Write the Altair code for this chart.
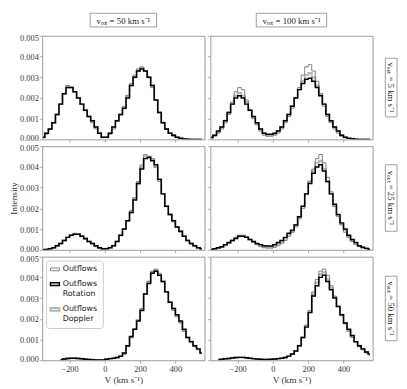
import altair as alt
import pandas as pd

SERIF = "Liberation Serif"

# bin centres (km/s)
V = [-350, -330, -310, -290, -270, -250, -230, -210, -190, -170, -150, -130, -110, -90, -70, -50, -30, -10,
     10, 30, 50, 70, 90, 110, 130, 150, 170, 190, 210, 230, 250, 270, 290, 310, 330, 350, 370, 390, 410, 430,
     450, 470, 490, 510, 530, 550]

SERIES = ["Outflows", "Outflows Rotation", "Outflows Doppler"]
COLORS = ["#808080", "#000000", "#b4b4b4"]
WIDTHS = [1.0, 2.0, 2.6]
DRAW_ORDER = ["Outflows Doppler", "Outflows", "Outflows Rotation"]

COL_TITLES = ["vᵣₒₜ = 50 km s⁻¹", "vᵣₒₜ = 100 km s⁻¹"]
ROW_TITLES = ["vₒᵤₜ = 5 km s⁻¹", "vₒᵤₜ = 25 km s⁻¹", "vₒᵤₜ = 50 km s⁻¹"]
X_TICKS = [-200, 0, 200, 400]
Y_TICKS = [0, 0.001, 0.002, 0.003, 0.004, 0.005]

# intensities in units of 1e-4 ; None = no bin drawn
# row 1 : v_out = 5, v_rot = 50
R1L_OUT = [1, 2.5, 5, 8, 12, 17, 22, 26, 25, 23, 20, 17, 14, 11, 8, 5, 3, 1,
           1, 2.5, 5, 9, 12, 16, 21, 27, 31, 34, 35, 33, 30, 25, 19, 13, 8, 5, 3, 1.5, 1, 0.5, 0.2, 0.1, 0, 0, 0, 0]
R1L_ROT = [1, 3, 5, 8, 12, 17, 22, 25, 25, 23, 20, 17, 14, 11, 9, 6, 3, 1,
           1, 3, 6, 9, 12, 15, 20, 26, 30, 33, 34, 33, 30, 26, 19, 13, 8, 5, 3, 2, 1, 0.5, 0.2, 0.1, 0, 0, 0, 0]
R1L_DOP = [1, 3, 5, 8, 12, 17, 22, 25, 25, 23, 20, 17, 14, 11, 9, 6, 3, 1,
           1, 3, 6, 9, 12, 15, 21, 26, 30, 33, 34.5, 33, 30, 26, 19, 13, 8, 5, 3, 2, 1, 0.5, 0.2, 0.1, 0, 0, 0, 0]
# row 1 : v_out = 5, v_rot = 100
R1R_OUT = [0.5, 1.5, 3, 5, 8, 12, 18, 23, 25, 24, 19, 14, 10, 7, 4, 2, 1.5, 1.5,
           2, 3, 5, 8, 11, 15, 20, 25, 31, 35, 36, 33, 28, 22, 16, 11, 8, 5, 3, 1.5, 1, 0.5, 0.2, 0.1, 0, 0, 0, 0]
R1R_ROT = [1, 2, 4, 6, 9, 13, 17, 20, 21, 20, 17, 14, 11, 8, 5, 3, 2.5, 2.5,
           3, 4, 6, 9, 12, 16, 20, 24, 27, 29, 29.5, 28, 25, 21, 17, 12, 9, 6, 4, 2, 1, 0.5, 0.3, 0.1, 0, 0, 0, 0]
R1R_DOP = [1, 2, 3.5, 6, 9, 13, 17, 21, 22.5, 21, 18, 14, 10.5, 7.5, 5, 3, 2, 2,
           2.5, 4, 6, 9, 12, 16, 20, 24, 28, 31, 32, 30, 26, 22, 17, 12, 8.5, 6, 4, 2, 1, 0.5, 0.3, 0.1, 0, 0, 0, 0]
# row 2 : v_out = 25, v_rot = 50
R2L_OUT = [0, 0.2, 0.5, 1, 2, 3, 4.5, 6, 7, 8, 7.5, 6.5, 5, 4, 3, 1.5, 0.8, 0.3,
           0.3, 1, 2, 4, 7, 10, 14, 19, 25, 33, 41, 46, 45, 44, 40, 33, 27, 21, 17, 13.5, 11, 8.5, 6.5, 4.5, 3, 2, 1, 0.5]
R2L_ROT = [0, 0.2, 0.5, 1, 2, 3, 4.5, 6, 7, 7.5, 7.5, 6.5, 5.5, 4, 3, 2, 1, 0.5,
           0.5, 1, 2, 4, 7, 10, 14, 18, 24, 32, 39, 44, 44.5, 43, 41, 34, 27, 21, 17, 14, 11, 9, 6.5, 4.5, 3, 2, 1, 0.5]
R2L_DOP = [0, 0.2, 0.5, 1, 2, 3, 4.5, 6, 7, 7.5, 7.5, 6.5, 5.5, 4, 3, 2, 1, 0.5,
           0.5, 1, 2, 4, 7, 10, 14, 18, 25, 32, 40, 45, 45, 43.5, 40, 34, 27, 21, 17, 14, 11, 9, 6.5, 4.5, 3, 2, 1, 0.5]
# row 2 : v_out = 25, v_rot = 100
R2R_OUT = [0, 0.3, 0.7, 1.2, 2, 3, 4.5, 6, 7, 7, 6.5, 5, 3.5, 2.5, 1.5, 1, 0.8, 0.8,
           1.2, 2, 3, 4.5, 6.5, 8.5, 11, 15, 20, 27, 33, 39, 44, 46, 42, 35, 28, 21, 16, 12, 8.5, 6, 4, 2.5, 1.5, 1, 0.5, 0.2]
R2R_ROT = [0.2, 0.5, 1, 1.5, 2.5, 3.5, 4.5, 5.5, 6.5, 6.5, 6, 5, 4, 3, 2.5, 2, 1.8, 1.8,
           2.5, 3.5, 4.5, 6, 8, 9.5, 12, 16, 21, 27, 32, 37, 40, 41, 38, 33, 27, 22, 17, 13, 10, 7, 5, 3.5, 2, 1.2, 0.7, 0.3]
R2R_DOP = [0.2, 0.4, 0.9, 1.4, 2.3, 3.3, 4.5, 5.8, 6.8, 6.8, 6.2, 5, 3.8, 2.8, 2, 1.5, 1.3, 1.3,
           2, 3, 4, 5.5, 7.5, 9, 12, 16, 21, 27, 33, 38, 42, 43, 39, 33, 27, 21, 16.5, 12.5, 9.5, 6.5, 4.5, 3, 1.8, 1, 0.6, 0.3]
# row 3 : v_out = 50, v_rot = 50
R3L_OUT = [None, None, None, None, None, 0.2, 0.5, 0.8, 1, 1, 0.9, 0.7, 0.5, 0.4, 0.3, 0.2, 0.2, 0.2,
           0.4, 0.7, 1, 1.2, 1.8, 2.8, 6.5, 11, 15, 19, 25, 32, 38, 43, 44, 42, 38, 33, 28, 24, 21, 18, 14, 11, 8.5, 6.5, 5, 3.5]
R3L_ROT = [None, None, None, None, None, 0.3, 0.6, 0.9, 1, 1, 0.9, 0.7, 0.5, 0.4, 0.3, 0.2, 0.2, 0.2,
           0.5, 0.8, 1, 1.3, 2, 3.5, 7, 11.5, 15, 19, 24, 32, 37, 42, 43, 41, 38, 33, 28, 25, 22, 19, 15, 11, 9, 7, 5.5, 3.5]
R3L_DOP = [None, None, None, None, None, 0.3, 0.6, 0.9, 1, 1, 0.9, 0.7, 0.5, 0.4, 0.3, 0.2, 0.2, 0.2,
           0.5, 0.8, 1, 1.3, 2, 3.5, 7, 11, 15, 19.5, 24.5, 32, 38, 42.5, 43.5, 41, 38, 33, 28, 25, 21.5, 18.5, 14.5, 11, 9, 7, 5.5, 3.5]
# row 3 : v_out = 50, v_rot = 100
R3R_OUT = [None, None, 0.2, 0.4, 0.6, 0.8, 1, 1.2, 1.3, 1.3, 1.1, 0.9, 0.7, 0.5, 0.4, 0.3, 0.3, 0.4,
           0.5, 0.7, 0.9, 1.2, 1.8, 2.8, 4.5, 7, 11, 17, 24, 33, 39, 43, 44, 41, 36, 31, 26, 21.5, 17.5, 14, 11, 8.5, 6.5, 5, 3.5, 2.5]
R3R_ROT = [None, None, 0.3, 0.5, 0.7, 0.9, 1.1, 1.3, 1.4, 1.4, 1.2, 1, 0.8, 0.6, 0.5, 0.4, 0.4, 0.5,
           0.6, 0.8, 1, 1.3, 2, 3, 4.5, 7, 11, 16, 23, 31, 36, 40, 41, 38, 34, 30, 26, 22, 18, 15, 12, 9, 7, 5.5, 4, 3]
R3R_DOP = [None, None, 0.3, 0.5, 0.7, 0.9, 1.1, 1.3, 1.4, 1.4, 1.2, 1, 0.8, 0.6, 0.5, 0.4, 0.4, 0.5,
           0.6, 0.8, 1, 1.3, 2, 3, 4.5, 7, 11, 16.5, 23.5, 32, 37.5, 41.5, 42.5, 39, 35, 30.5, 26, 22, 18, 14.5, 11.5, 9, 7, 5.5, 4, 3]

PANELS = [
    [(R1L_OUT, R1L_ROT, R1L_DOP), (R1R_OUT, R1R_ROT, R1R_DOP)],
    [(R2L_OUT, R2L_ROT, R2L_DOP), (R2R_OUT, R2R_ROT, R2R_DOP)],
    [(R3L_OUT, R3L_ROT, R3L_DOP), (R3R_OUT, R3R_ROT, R3R_DOP)],
]

PW = 166
PH = 106
LABW = 20
HDRH = 16
COL_BOXW = [68, 72]
ROW_BOXH = [60, 68, 66]


def panel_df(arrs):
    rows = []
    for s, arr in zip(SERIES, arrs):
        for v, y in zip(V, arr):
            if y is not None:
                rows.append({"v": v, "val": y * 1e-4, "series": s})
    return pd.DataFrame(rows)


LEGEND = alt.Legend(
    title=None, orient="none", legendX=4, legendY=4,
    symbolType="M-1.6,-0.5H1.6V0.5H-1.6Z", symbolSize=32, symbolFillColor="white",
    labelFont="DejaVu Sans", labelFontSize=8, labelColor="#222",
    labelExpr="split(datum.label, ' ')",
    fillColor="white", strokeColor="#cccccc", cornerRadius=3, padding=5, rowPadding=6,
)

Y_LABEL_OFFSET = {
    "condition": [
        {"test": "datum.value < 0.0005", "value": -1.5},
        {"test": "datum.value > 0.0045", "value": 1.5},
    ],
    "value": 0,
}


def make_panel(r, c):
    df = panel_df(PANELS[r][c])
    bottom = r == 2
    left = c == 0
    show_leg = (r == 2 and c == 0)
    xaxis = alt.Axis(values=X_TICKS, labels=bottom, title=("V (km s⁻¹)" if bottom else None),
                     titlePadding=2)
    yaxis = alt.Axis(values=Y_TICKS, format=".3f", labels=left, labelOffset=Y_LABEL_OFFSET,
                     title=("Intensity" if (left and r == 1) else None), titlePadding=1)
    base = alt.Chart(df).encode(
        x=alt.X("v:Q", scale=alt.Scale(domain=[-355, 565], nice=False, zero=False), axis=xaxis),
        y=alt.Y("val:Q", scale=alt.Scale(domain=[0, 0.005], nice=False), axis=yaxis),
        color=alt.Color("series:N", scale=alt.Scale(domain=SERIES, range=COLORS),
                        legend=(LEGEND if show_leg else None)),
        strokeWidth=alt.StrokeWidth("series:N", scale=alt.Scale(domain=SERIES, range=WIDTHS),
                                    legend=(LEGEND if show_leg else None)),
    )
    layers = [
        base.transform_filter(alt.datum.series == s).mark_line(interpolate="step", clip=True)
        for s in DRAW_ORDER
    ]
    return alt.layer(*layers).properties(width=PW, height=PH)


def header(title, boxw):
    d = pd.DataFrame({"t": [title]})
    box = alt.Chart(d).mark_rect(fill="white", stroke="#888888", strokeWidth=0.8).encode(
        x=alt.value(PW / 2 - boxw / 2), x2=alt.value(PW / 2 + boxw / 2),
        y=alt.value(0), y2=alt.value(14))
    txt = alt.Chart(d).mark_text(font=SERIF, fontSize=9, color="#222222").encode(
        x=alt.value(PW / 2), y=alt.value(7.5), text="t:N")
    return alt.layer(box, txt).properties(width=PW, height=HDRH,
                                          view=alt.ViewBackground(stroke="transparent"))


def rowlabel(title, boxh):
    d = pd.DataFrame({"t": [title]})
    box = alt.Chart(d).mark_rect(fill="white", stroke="#888888", strokeWidth=0.8).encode(
        x=alt.value(7), x2=alt.value(19),
        y=alt.value(PH / 2 - boxh / 2), y2=alt.value(PH / 2 + boxh / 2))
    txt = alt.Chart(d).mark_text(font=SERIF, fontSize=9, color="#222222", angle=90).encode(
        x=alt.value(13), y=alt.value(PH / 2), text="t:N")
    return alt.layer(box, txt).properties(width=LABW, height=PH,
                                          view=alt.ViewBackground(stroke="transparent"))


spacer = alt.Chart(pd.DataFrame({"t": [""]})).mark_rect(opacity=0).encode(
    x=alt.value(2), x2=alt.value(4), y=alt.value(4), y2=alt.value(6)).properties(
    width=LABW, height=HDRH, view=alt.ViewBackground(stroke="transparent"))

cells = [header(COL_TITLES[0], COL_BOXW[0]), header(COL_TITLES[1], COL_BOXW[1]), spacer]
for r in range(3):
    cells += [make_panel(r, 0), make_panel(r, 1), rowlabel(ROW_TITLES[r], ROW_BOXH[r])]

chart = alt.concat(
    *cells, columns=3, spacing=alt.RowColnumber(row=7, column=6), bounds="flush", align="each"
).resolve_scale(
    color="independent", strokeWidth="independent"
).properties(
    padding={"left": 0, "top": 0, "right": 0, "bottom": 0}
).configure_view(
    stroke="#999999", strokeWidth=1
).configure_axis(
    domain=False, grid=False, tickColor="#999999", tickSize=3, tickWidth=0.8,
    labelFont=SERIF, labelFontSize=8.5, labelColor="#333333", labelPadding=1,
    titleFont=SERIF, titleFontSize=9.5, titleColor="#333333", titleFontWeight="normal",
)

chart.save("out.html", embed_options={"renderer": "svg", "actions": False})
